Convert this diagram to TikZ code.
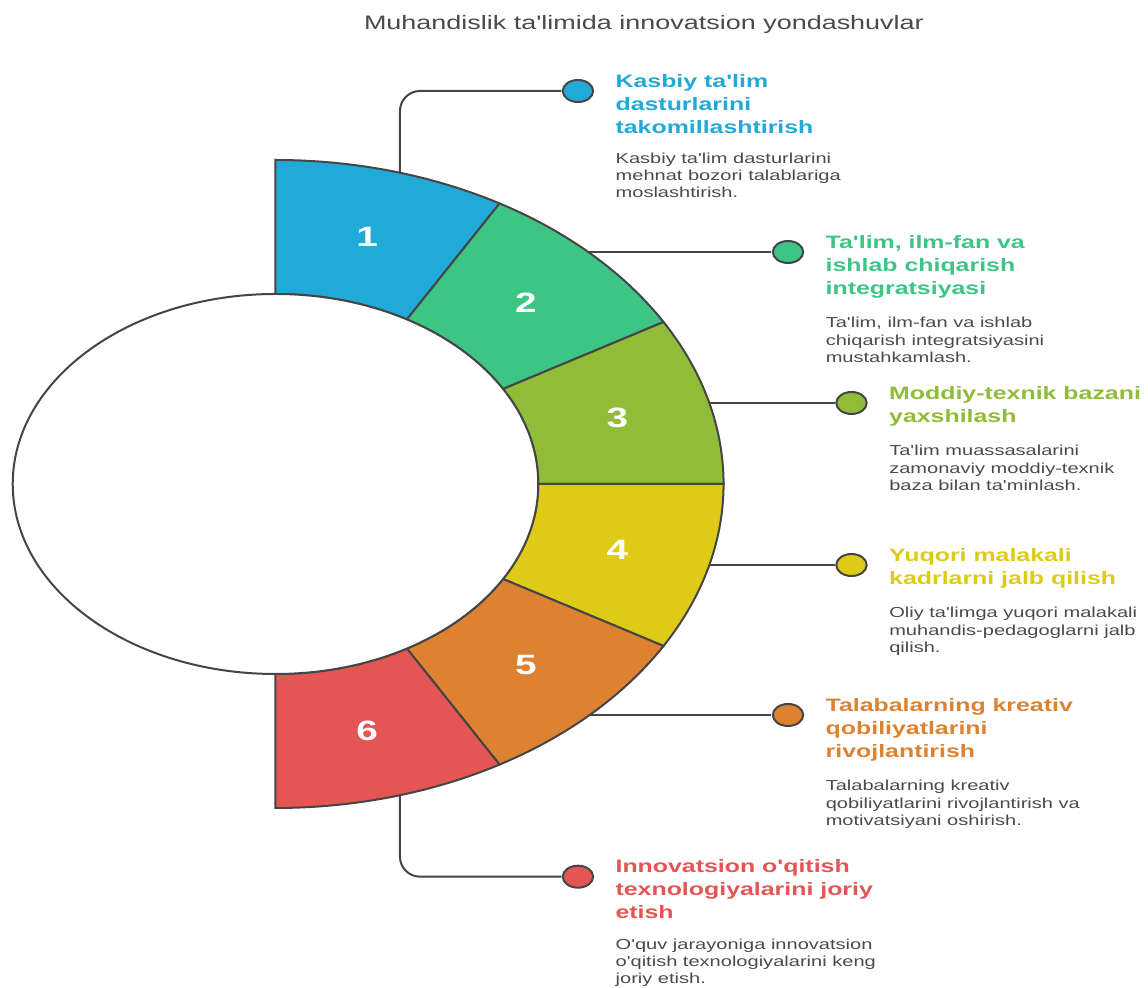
\documentclass[tikz,border=0pt]{standalone}
\usepackage{fontspec}
\setmainfont{Liberation Sans}[Ligatures=TeXOff]
\usetikzlibrary{positioning}

\definecolor{segBlue}{HTML}{21AAD8}
\definecolor{segGreen}{HTML}{3CC584}
\definecolor{segOlive}{HTML}{90BC38}
\definecolor{segYellow}{HTML}{DDCB17}
\definecolor{segOrange}{HTML}{DD8230}
\definecolor{segRed}{HTML}{E35653}
\definecolor{edgeGray}{HTML}{454545}
\definecolor{textGray}{HTML}{4A4A4A}

\tikzset{
  every node/.style={transform shape},
  segment/.style={draw=edgeGray, line width=2pt},
  num/.style={text=white, font=\fontsize{28}{28}\selectfont\bfseries},
  dot/.style={circle, draw=edgeGray, line width=2pt, minimum size=22pt, inner sep=0pt},
  link/.style={draw=edgeGray, line width=2pt, rounded corners=20pt},
  head/.style={align=left, inner sep=0pt, font=\fontsize{18}{23}\selectfont\bfseries},
  body/.style={align=left, inner sep=0pt, text=textGray, font=\fontsize{14.5}{17.3}\selectfont},
  title/.style={text=textGray, font=\fontsize{19.5}{20}\selectfont},
}

\begin{document}
\begin{tikzpicture}[x=1pt, y=1pt, xscale=1.383]

  \useasboundingbox (-199.2,-504) rectangle (630.9,484);

  \node[title, anchor=base] (title) at (266.4,454) {Muhandislik ta'limida innovatsion yondashuvlar};

  \foreach \c [count=\i] in {segBlue,segGreen,segOlive,segYellow,segOrange,segRed} {
    \pgfmathsetmacro\a{120-30*\i}
    \pgfmathsetmacro\b{\a-30}
    \pgfmathsetmacro\m{\a-15}
    \filldraw[segment, fill=\c] (\a:190) -- (\a:324)
      arc[start angle=\a, end angle=\b, radius=324] -- (\b:190)
      arc[start angle=\b, end angle=\a, radius=190] -- cycle;
    \node[num] (n\i) at (\m:256) {\i};
  }
  \draw[segment, fill=white] (0,0) circle[radius=190];

  \node (d1) [dot, fill=segBlue] at (218.7,393) {};
  \node (d2) [dot, fill=segGreen] at (370.6,232) {};
  \node (d3) [dot, fill=segOlive] at (416.5,81) {};
  \node (d4) [dot, fill=segYellow] at (416.5,-81) {};
  \node (d5) [dot, fill=segOrange] at (370.6,-231) {};
  \node (d6) [dot, fill=segRed] at (218.7,-392.7) {};

  \coordinate (r1) at (90,311.3);
  \coordinate (r2) at (226.2,232);
  \coordinate (r3) at (313.7,81);
  \coordinate (r4) at (313.7,-81);
  \coordinate (r5) at (227.2,-231);
  \coordinate (r6) at (90,-311.3);

  \draw[link] (r1) |- (d1.west);
  \draw[link] (r2) -- (d2.west);
  \draw[link] (r3) -- (d3.west);
  \draw[link] (r4) -- (d4.west);
  \draw[link] (r5) -- (d5.west);
  \draw[link] (r6) |- (d6.west);

  \node (h1) [head, text=segBlue, right=15pt of d1.east, anchor=north west, yshift=17pt] {Kasbiy ta'lim\\dasturlarini\\takomillashtirish};
  \node (h2) [head, text=segGreen, right=15pt of d2.east, anchor=north west, yshift=17pt] {Ta'lim, ilm-fan va\\ishlab chiqarish\\integratsiyasi};
  \node (h3) [head, text=segOlive, right=15pt of d3.east, anchor=north west, yshift=17pt] {Moddiy-texnik bazani\\yaxshilash};
  \node (h4) [head, text=segYellow, right=15pt of d4.east, anchor=north west, yshift=17pt] {Yuqori malakali\\kadrlarni jalb qilish};
  \node (h5) [head, text=segOrange, right=15pt of d5.east, anchor=north west, yshift=17pt] {Talabalarning kreativ\\qobiliyatlarini\\rivojlantirish};
  \node (h6) [head, text=segRed, right=15pt of d6.east, anchor=north west, yshift=17pt] {Innovatsion o'qitish\\texnologiyalarini joriy\\etish};

  \node (b1) [body, below right=19pt and 0pt of h1.south west] {Kasbiy ta'lim dasturlarini\\mehnat bozori talablariga\\moslashtirish.};
  \node (b2) [body, below right=19pt and 0pt of h2.south west] {Ta'lim, ilm-fan va ishlab\\chiqarish integratsiyasini\\mustahkamlash.};
  \node (b3) [body, below right=19pt and 0pt of h3.south west] {Ta'lim muassasalarini\\zamonaviy moddiy-texnik\\baza bilan ta'minlash.};
  \node (b4) [body, below right=19pt and 0pt of h4.south west] {Oliy ta'limga yuqori malakali\\muhandis-pedagoglarni jalb\\qilish.};
  \node (b5) [body, below right=19pt and 0pt of h5.south west] {Talabalarning kreativ\\qobiliyatlarini rivojlantirish va\\motivatsiyani oshirish.};
  \node (b6) [body, below right=19pt and 0pt of h6.south west] {O'quv jarayoniga innovatsion\\o'qitish texnologiyalarini keng\\joriy etish.};

\end{tikzpicture}
\end{document}
